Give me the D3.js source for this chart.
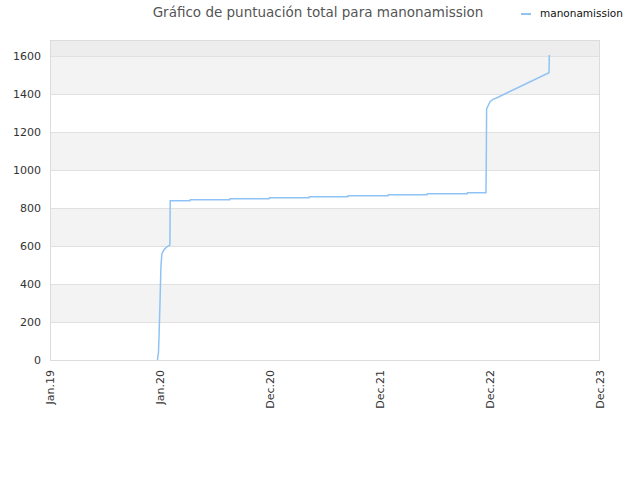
<!DOCTYPE html>
<html>
<head>
<meta charset="utf-8">
<script src="https://cdn.jsdelivr.net/npm/d3@7"></script>
<style>
  body { margin: 0; background: #fff; }
  text { font-family: "DejaVu Sans", sans-serif; }
</style>
</head>
<body>
<div id="chart"></div>
<script>
// Chart data
const chartTitle = "Gráfico de puntuación total para manonamission";
const seriesName = "manonamission";
const dates = [
  "2019-12-31", "2020-01-01", "2020-01-03", "2020-01-05", "2020-01-08", "2020-01-11",
  "2020-01-14", "2020-01-21", "2020-01-30", "2020-02-09", "2020-02-10",
  "2020-04-14", "2020-04-15", "2020-08-21", "2020-08-22", "2020-12-26", "2020-12-27",
  "2021-05-04", "2021-05-05", "2021-09-07", "2021-09-08", "2022-01-15", "2022-01-16",
  "2022-05-21", "2022-05-22", "2022-09-28", "2022-09-29", "2022-11-28", "2022-11-29",
  "2022-11-30", "2022-12-11", "2022-12-21", "2023-01-06", "2023-06-20", "2023-06-21"
];
const scores = [
  0, 20, 37, 132, 300, 490,
  558, 580, 595, 605, 838,
  838, 843, 843, 849, 849, 854,
  854, 859, 859, 865, 865, 870,
  870, 875, 875, 880, 880, 1063,
  1321, 1359, 1372, 1383, 1512, 1605
];
const yTicks = [0, 200, 400, 600, 800, 1000, 1200, 1400, 1600];
const xTickLabels = ["Jan.19", "Jan.20", "Dec.20", "Dec.21", "Dec.22", "Dec.23"];
const xStart = "2019-01-17", xEnd = "2023-12-02";

const width = 640, height = 480;
const margin = { top: 40, right: 40, bottom: 120, left: 50 };
const iw = width - margin.left - margin.right;
const ih = height - margin.top - margin.bottom;

const parse = d3.timeParse("%Y-%m-%d");
const data = dates.map((d, i) => ({ date: parse(d), value: scores[i] }));

const svg = d3.select("#chart").append("svg")
  .attr("width", width)
  .attr("height", height);

const x = d3.scaleTime()
  .domain([parse(xStart), parse(xEnd)])
  .range([0, iw]);
const y = d3.scaleLinear()
  .domain([0, 1684])
  .range([ih, 0]);

const g = svg.append("g")
  .attr("transform", `translate(${margin.left},${margin.top})`);

// background bands
const bands = [];
for (let i = 0; i < yTicks.length; i++) {
  const lo = yTicks[i];
  const hi = i + 1 < yTicks.length ? yTicks[i + 1] : y.domain()[1];
  let fill = (i % 2 == 1) ? "#f3f3f3" : "#ffffff";
  if (i == yTicks.length - 1) fill = "#ededed";
  bands.push({ lo, hi, fill });
}
g.selectAll("rect.band")
  .data(bands)
  .enter().append("rect")
  .attr("class", "band")
  .attr("x", 0)
  .attr("width", iw)
  .attr("y", d => y(d.hi))
  .attr("height", d => y(d.lo) - y(d.hi))
  .style("fill", d => d.fill);

// grid lines
g.selectAll("line.grid")
  .data(yTicks)
  .enter().append("line")
  .attr("class", "grid")
  .attr("x1", 0).attr("x2", iw)
  .attr("y1", d => y(d) + 0.5).attr("y2", d => y(d) + 0.5)
  .style("stroke", "#e0e0e0")
  .style("stroke-width", 1);

// frame
g.append("rect")
  .attr("x", 0.5).attr("y", 0.5)
  .attr("width", iw - 1).attr("height", ih)
  .style("fill", "none")
  .style("stroke", "#dcdcdc");

// y axis labels
const yAxis = g.append("g")
  .call(d3.axisLeft(y).tickValues(yTicks).tickSize(0).tickPadding(9)
    .tickFormat(d3.format("d")));
yAxis.select(".domain").remove();
yAxis.selectAll("text")
  .style("font-size", "11px")
  .style("fill", "#333")
  .style("font-family", "DejaVu Sans, sans-serif");

// x axis, evenly spaced ticks
const t0 = x.domain()[0].getTime(), t1 = x.domain()[1].getTime();
const xTicks = xTickLabels.map((lab, i) => new Date(t0 + (t1 - t0) * i / (xTickLabels.length - 1)));
const xAxis = g.append("g")
  .attr("transform", `translate(0,${ih})`)
  .call(d3.axisBottom(x).tickValues(xTicks).tickSize(0)
    .tickFormat((d, i) => xTickLabels[i]));
xAxis.select(".domain").remove();
xAxis.selectAll("text")
  .style("font-size", "11px")
  .style("fill", "#333")
  .style("font-family", "DejaVu Sans, sans-serif")
  .style("text-anchor", "end")
  .attr("transform", "rotate(-90)")
  .attr("x", -10)
  .attr("y", 0)
  .attr("dy", "0.35em");

// series line
const line = d3.line()
  .x(d => x(d.date))
  .y(d => y(d.value));
g.append("path")
  .datum(data)
  .attr("d", line)
  .style("fill", "none")
  .style("stroke", "#90c3f5")
  .style("stroke-width", 1.5);

// title
svg.append("text")
  .attr("x", 318)
  .attr("y", 17)
  .attr("text-anchor", "middle")
  .style("font-size", "13.5px")
  .style("fill", "#555")
  .text(chartTitle);

// legend
svg.append("line")
  .attr("x1", 521).attr("x2", 531)
  .attr("y1", 14).attr("y2", 14)
  .style("stroke", "#90c3f5")
  .style("stroke-width", 2);
svg.append("text")
  .attr("x", 540)
  .attr("y", 17)
  .style("font-size", "10.5px")
  .style("fill", "#111")
  .text(seriesName);
</script>
</body>
</html>
